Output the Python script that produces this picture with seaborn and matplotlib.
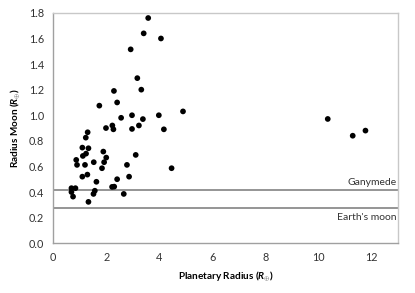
import matplotlib
matplotlib.use("Agg")
import matplotlib.pyplot as plt
import seaborn as sns
import pandas as pd

# planet radius (Earth radii) vs moon radius needed (Earth radii)
planet_radius = [3.58, 3.41, 4.06, 2.92, 3.17, 2.29, 3.32, 2.41, 1.74,
                 2.56, 2.97, 3.38, 3.98, 4.89, 1.99, 2.23, 2.27, 2.97, 3.23, 4.17,
                 1.30, 1.23, 1.10, 1.33, 1.24, 1.12, 1.89, 2.00, 0.87, 1.92, 1.53,
                 3.11, 0.90, 1.20, 1.84, 2.78, 4.46, 1.29, 1.10, 2.86, 2.41, 1.63,
                 2.22, 2.30, 0.69, 0.84, 1.57, 0.69, 1.52, 2.66, 0.75, 1.33,
                 10.34, 11.28, 11.76]
moon_radius = [1.76, 1.64, 1.60, 1.515, 1.29, 1.19, 1.20, 1.10, 1.075,
               0.98, 1.00, 0.97, 1.00, 1.03, 0.90, 0.92, 0.89, 0.893, 0.92, 0.89,
               0.867, 0.825, 0.747, 0.742, 0.70, 0.682, 0.716, 0.669, 0.651, 0.633, 0.633,
               0.69, 0.612, 0.612, 0.586, 0.612, 0.586, 0.536, 0.52, 0.52, 0.50, 0.48,
               0.44, 0.442, 0.43, 0.43, 0.41, 0.40, 0.385, 0.385, 0.364, 0.323,
               0.971, 0.84, 0.88]

ref_names = ["Ganymede", "Earth's moon"]
ref_radius = [0.413, 0.273]

df = pd.DataFrame({"planet": planet_radius, "moon": moon_radius})

sns.set_style("white")
plt.rcParams["font.family"] = ["Lato", "DejaVu Sans"]
plt.rcParams["mathtext.fontset"] = "custom"
plt.rcParams["mathtext.it"] = "Lato:italic:bold"
plt.rcParams["mathtext.rm"] = "Lato:bold"

fig = plt.figure(figsize=(4.15, 2.93), dpi=100)
ax = fig.add_axes([0.128, 0.170, 0.832, 0.786])

for name, r in zip(ref_names, ref_radius):
    ax.axhline(r, color="#8c8c8c", lw=1.3, zorder=1)
ax.text(12.92, ref_radius[0] + 0.025, ref_names[0], ha="right", va="bottom",
        fontsize=7.5, color="#333333")
ax.text(12.92, ref_radius[1] - 0.035, ref_names[1], ha="right", va="top",
        fontsize=7.5, color="#333333")

sns.scatterplot(data=df, x="planet", y="moon", ax=ax, color="black",
                s=17, edgecolor="none", zorder=3)

ax.set_xlim(0, 13)
ax.set_ylim(0, 1.8)
ax.set_xticks(range(0, 13, 2))
ax.set_yticks([i / 10 for i in range(0, 19, 2)])
ax.yaxis.set_major_formatter(matplotlib.ticker.FormatStrFormatter("%.1f"))
ax.tick_params(axis="both", labelsize=7.8, colors="#333333", length=3,
               direction="out", width=0.8)
ax.tick_params(axis="both", color="#a0a0a0")
for side in ["left", "bottom"]:
    ax.spines[side].set_color("#a0a0a0")
    ax.spines[side].set_linewidth(1.0)
for side in ["top", "right"]:
    ax.spines[side].set_color("#c8c8c8")
    ax.spines[side].set_linewidth(1.0)

ax.set_xlabel(r"Planetary Radius ($\mathit{R}_{\oplus}$)", fontsize=7.2,
              fontweight="bold", color="black", labelpad=4)
ax.set_ylabel(r"Radius Moon ($\mathit{R}_{\oplus}$)", fontsize=7.2,
              fontweight="bold", color="black", labelpad=5)

fig.savefig("out.png", dpi=100)
